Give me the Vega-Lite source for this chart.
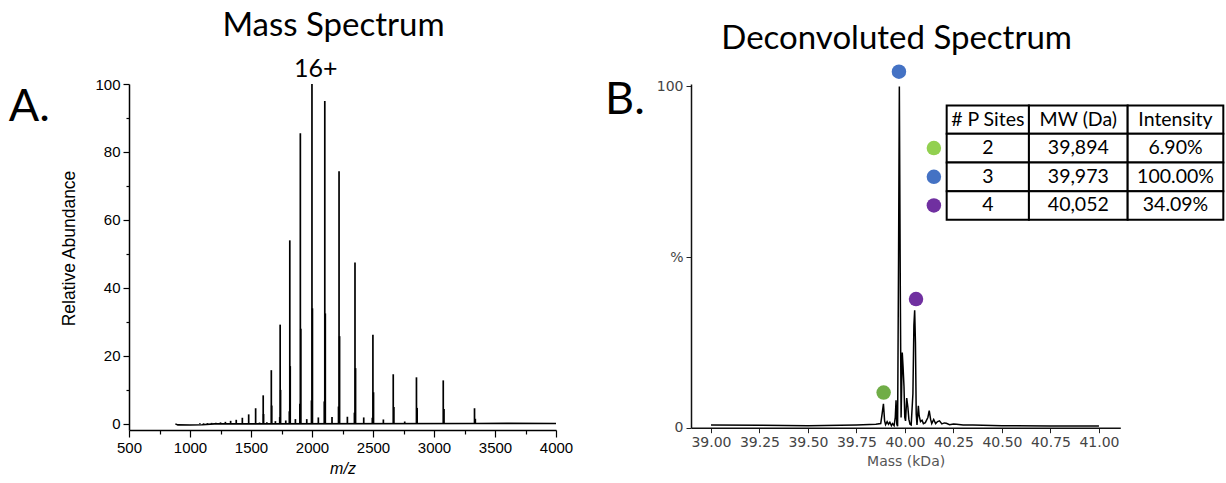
{
  "$schema": "https://vega.github.io/schema/vega-lite/v6.json",
  "background": "white",
  "padding": {"left": 8, "top": 9, "right": 0, "bottom": 0},
  "bounds": "flush",
  "spacing": 135,
  "config": {"view": {"stroke": null}, "axis": {"grid": false}},
  "datasets": {
    "peaks": [
      {"mz": 1081, "ab": 0.2}, {"mz": 1111, "ab": 0.2}, {"mz": 1143, "ab": 0.25}, {"mz": 1177, "ab": 0.3},
      {"mz": 1212, "ab": 0.35}, {"mz": 1250, "ab": 0.45}, {"mz": 1290, "ab": 0.6}, {"mz": 1333, "ab": 0.9},
      {"mz": 1379, "ab": 1.2}, {"mz": 1429, "ab": 1.8}, {"mz": 1481, "ab": 2.8}, {"mz": 1538, "ab": 4.6},
      {"mz": 1600, "ab": 8.4}, {"mz": 1666.5, "ab": 15.8}, {"mz": 1739, "ab": 29.2}, {"mz": 1818, "ab": 54},
      {"mz": 1904.5, "ab": 85.5}, {"mz": 1999.7, "ab": 100}, {"mz": 2104.9, "ab": 95}, {"mz": 2221.7, "ab": 74.3},
      {"mz": 2352.4, "ab": 47.5}, {"mz": 2499.3, "ab": 26.2}, {"mz": 2665.9, "ab": 14.6}, {"mz": 2856.2, "ab": 13.7},
      {"mz": 3075.8, "ab": 12.8}, {"mz": 3332.1, "ab": 4.6},
      {"mz": 1603, "ab": 2.9}, {"mz": 1669.8, "ab": 5.4}, {"mz": 1742.4, "ab": 10}, {"mz": 1821.6, "ab": 17},
      {"mz": 1908.2, "ab": 28}, {"mz": 2003.6, "ab": 34}, {"mz": 2109.1, "ab": 32.5}, {"mz": 2226.1, "ab": 25.8},
      {"mz": 2357.1, "ab": 16.4}, {"mz": 2504.3, "ab": 9.3}, {"mz": 2671.1, "ab": 5}, {"mz": 2861.9, "ab": 4.7},
      {"mz": 3082, "ab": 4.4}, {"mz": 3338.7, "ab": 1.5},
      {"mz": 1735.5, "ab": 2}, {"mz": 1814.3, "ab": 3.7}, {"mz": 1900.7, "ab": 5.9}, {"mz": 1995.7, "ab": 6.9},
      {"mz": 2100.7, "ab": 6.6}, {"mz": 2217.3, "ab": 5.1}, {"mz": 2347.7, "ab": 3.3}, {"mz": 2494.4, "ab": 1.8},
      {"mz": 1570, "ab": 0.4}, {"mz": 1630, "ab": 0.5}, {"mz": 1700, "ab": 0.8}, {"mz": 1785, "ab": 1.0},
      {"mz": 1864, "ab": 1.4}, {"mz": 1957, "ab": 1.4}, {"mz": 2052, "ab": 1.9}, {"mz": 2164, "ab": 2.0},
      {"mz": 2290, "ab": 2.1}, {"mz": 2424, "ab": 1.9}, {"mz": 2585, "ab": 1.3}, {"mz": 2760, "ab": 0.7}
    ],
    "noise": [
      {"mz": 880, "ab": 0}, {"mz": 900, "ab": -0.3}, {"mz": 1000, "ab": -0.35}, {"mz": 1100, "ab": -0.25},
      {"mz": 1200, "ab": 0}, {"mz": 3350, "ab": 0.1}, {"mz": 3600, "ab": 0.15}, {"mz": 4000, "ab": 0.1}
    ],
    "labelA": [{"mz": -486, "ab": 89.2, "label": "A."}],
    "charge": [{"mz": 2030, "ab": 102.15, "label": "16+"}],
    "profile": [
      {"mass": 39.0, "pct": 0.8}, {"mass": 39.25, "pct": 0.7}, {"mass": 39.5, "pct": 0.6}, {"mass": 39.75, "pct": 0.8},
      {"mass": 39.85, "pct": 1.0}, {"mass": 39.875, "pct": 1.2}, {"mass": 39.882, "pct": 4}, {"mass": 39.889, "pct": 7.0},
      {"mass": 39.895, "pct": 2}, {"mass": 39.9, "pct": 0.9}, {"mass": 39.908, "pct": 1.8}, {"mass": 39.915, "pct": 1.0},
      {"mass": 39.922, "pct": 1.6}, {"mass": 39.93, "pct": 0.6}, {"mass": 39.936, "pct": 1.2}, {"mass": 39.944, "pct": 0.6},
      {"mass": 39.95, "pct": 3}, {"mass": 39.954, "pct": 8.0}, {"mass": 39.958, "pct": 1}, {"mass": 39.962, "pct": 0.4},
      {"mass": 39.967, "pct": 50}, {"mass": 39.971, "pct": 100}, {"mass": 39.976, "pct": 40}, {"mass": 39.98, "pct": 3},
      {"mass": 39.983, "pct": 12}, {"mass": 39.986, "pct": 22}, {"mass": 39.99, "pct": 18}, {"mass": 39.995, "pct": 12},
      {"mass": 39.999, "pct": 3}, {"mass": 40.003, "pct": 2}, {"mass": 40.009, "pct": 8.7}, {"mass": 40.015, "pct": 6},
      {"mass": 40.02, "pct": 2.5}, {"mass": 40.026, "pct": 1.0}, {"mass": 40.032, "pct": 0.8}, {"mass": 40.041, "pct": 10},
      {"mass": 40.046, "pct": 30}, {"mass": 40.05, "pct": 34.4}, {"mass": 40.054, "pct": 25}, {"mass": 40.058, "pct": 4},
      {"mass": 40.062, "pct": 0.8}, {"mass": 40.066, "pct": 4}, {"mass": 40.069, "pct": 6.4}, {"mass": 40.073, "pct": 3.5},
      {"mass": 40.08, "pct": 1.8}, {"mass": 40.088, "pct": 2.2}, {"mass": 40.095, "pct": 1.2}, {"mass": 40.105, "pct": 1.5},
      {"mass": 40.118, "pct": 3}, {"mass": 40.125, "pct": 5.0}, {"mass": 40.132, "pct": 2.5}, {"mass": 40.138, "pct": 1.2},
      {"mass": 40.148, "pct": 2.4}, {"mass": 40.158, "pct": 1.2}, {"mass": 40.168, "pct": 1.8}, {"mass": 40.178, "pct": 2.0},
      {"mass": 40.19, "pct": 1.1}, {"mass": 40.203, "pct": 1.4}, {"mass": 40.213, "pct": 1.3}, {"mass": 40.23, "pct": 0.9},
      {"mass": 40.25, "pct": 1.1}, {"mass": 40.266, "pct": 1.0}, {"mass": 40.3, "pct": 0.8}, {"mass": 40.35, "pct": 0.8},
      {"mass": 40.4, "pct": 0.7}, {"mass": 40.5, "pct": 0.6}, {"mass": 40.75, "pct": 0.5}, {"mass": 41.0, "pct": 0.5}
    ],
    "dots": [
      {"mass": 39.969, "pct": 104.3, "kind": "3 sites"},
      {"mass": 40.057, "pct": 37.7, "kind": "4 sites"},
      {"mass": 39.89, "pct": 10.3, "kind": "2 sites"},
      {"mass": 40.149, "pct": 81.94, "kind": "2 sites key"},
      {"mass": 40.149, "pct": 73.52, "kind": "3 sites key"},
      {"mass": 40.149, "pct": 65.12, "kind": "4 sites key"}
    ],
    "cells": [
      {"x1": 40.215, "x2": 40.639, "y1": 94.43, "y2": 86.14, "xc": 40.427, "yc": 90.29, "label": "# P Sites"},
      {"x1": 40.639, "x2": 41.148, "y1": 94.43, "y2": 86.14, "xc": 40.8935, "yc": 90.29, "label": "MW (Da)"},
      {"x1": 41.148, "x2": 41.641, "y1": 94.43, "y2": 86.14, "xc": 41.3945, "yc": 90.29, "label": "Intensity"},
      {"x1": 40.215, "x2": 40.639, "y1": 86.14, "y2": 77.73, "xc": 40.427, "yc": 81.94, "label": "2"},
      {"x1": 40.639, "x2": 41.148, "y1": 86.14, "y2": 77.73, "xc": 40.8935, "yc": 81.94, "label": "39,894"},
      {"x1": 41.148, "x2": 41.641, "y1": 86.14, "y2": 77.73, "xc": 41.3945, "yc": 81.94, "label": "6.90%"},
      {"x1": 40.215, "x2": 40.639, "y1": 77.73, "y2": 69.3, "xc": 40.427, "yc": 73.52, "label": "3"},
      {"x1": 40.639, "x2": 41.148, "y1": 77.73, "y2": 69.3, "xc": 40.8935, "yc": 73.52, "label": "39,973"},
      {"x1": 41.148, "x2": 41.641, "y1": 77.73, "y2": 69.3, "xc": 41.3945, "yc": 73.52, "label": "100.00%"},
      {"x1": 40.215, "x2": 40.639, "y1": 69.3, "y2": 60.94, "xc": 40.427, "yc": 65.12, "label": "4"},
      {"x1": 40.639, "x2": 41.148, "y1": 69.3, "y2": 60.94, "xc": 40.8935, "yc": 65.12, "label": "40,052"},
      {"x1": 41.148, "x2": 41.641, "y1": 69.3, "y2": 60.94, "xc": 41.3945, "yc": 65.12, "label": "34.09%"}
    ],
    "labelB": [{"mass": 38.454, "pct": 92.0, "label": "B."}]
  },
  "hconcat": [
    {
      "width": 427,
      "height": 346,
      "title": {"text": "Mass Spectrum", "font": "Lato", "fontSize": 33, "fontWeight": "normal", "color": "black", "offset": 14, "dx": -9},
      "resolve": {"axis": {"x": "independent", "y": "independent"}},
      "layer": [
        {
          "data": {"name": "peaks"},
          "mark": {"type": "rule", "color": "black", "strokeWidth": 1.7},
          "encoding": {
            "x": {"field": "mz", "type": "quantitative", "scale": {"domain": [500, 4000], "nice": false, "zero": false},
              "axis": {"orient": "bottom", "values": [500, 1000, 1500, 2000, 2500, 3000, 3500, 4000], "format": "d", "labelFlush": false, "tickSize": 7, "tickColor": "black", "tickWidth": 1.2,
                "domainColor": "black", "domainWidth": 1.5, "labelFont": "Liberation Sans", "labelFontSize": 15, "labelColor": "black", "labelPadding": 3,
                "title": "m/z", "titleFont": "Liberation Sans", "titleFontSize": 16, "titleFontStyle": "italic", "titleFontWeight": "normal", "titleColor": "black", "titlePadding": 5}},
            "y": {"field": "ab", "type": "quantitative", "scale": {"domain": [-1.8, 100], "nice": false, "zero": false},
              "axis": {"orient": "left", "values": [0, 20, 40, 60, 80, 100], "labelFlush": false, "tickSize": 6, "tickColor": "black", "tickWidth": 1.2,
                "domainColor": "black", "domainWidth": 1.5, "labelFont": "Liberation Sans", "labelFontSize": 15, "labelColor": "black", "labelPadding": 3,
                "title": "Relative Abundance", "titleFont": "Liberation Sans", "titleFontSize": 17.5, "titleFontWeight": "normal", "titleColor": "black", "titlePadding": 16, "titleY": 164}},
            "y2": {"datum": 0}
          }
        },
        {
          "data": {"name": "noise"},
          "mark": {"type": "line", "color": "black", "strokeWidth": 1.6},
          "encoding": {
            "x": {"field": "mz", "type": "quantitative",
              "axis": {"orient": "bottom", "values": [750, 1250, 1750, 2250, 2750, 3250, 3750], "labels": false, "domain": false, "tickSize": 4, "tickColor": "black", "tickWidth": 1.2, "title": null}},
            "y": {"field": "ab", "type": "quantitative",
              "axis": {"orient": "left", "values": [10, 30, 50, 70, 90], "labels": false, "domain": false, "tickSize": 3, "tickColor": "black", "tickWidth": 1.2, "title": null}}
          }
        },
        {
          "mark": {"type": "rule", "color": "black", "strokeWidth": 1.5},
          "encoding": {"y": {"datum": 0, "type": "quantitative", "axis": null}}
        },
        {
          "data": {"name": "labelA"},
          "mark": {"type": "text", "font": "Lato", "fontSize": 45, "align": "left", "baseline": "alphabetic", "color": "black"},
          "encoding": {
            "x": {"field": "mz", "type": "quantitative", "axis": null},
            "y": {"field": "ab", "type": "quantitative", "axis": null},
            "text": {"field": "label"}
          }
        },
        {
          "data": {"name": "charge"},
          "mark": {"type": "text", "font": "Lato", "fontSize": 25, "align": "center", "baseline": "alphabetic", "color": "black"},
          "encoding": {
            "x": {"field": "mz", "type": "quantitative", "axis": null},
            "y": {"field": "ab", "type": "quantitative", "axis": null},
            "text": {"field": "label"}
          }
        }
      ]
    },
    {
      "width": 429.3,
      "height": 343.7,
      "title": {"text": "Deconvoluted Spectrum", "font": "Lato", "fontSize": 33, "fontWeight": "normal", "color": "black", "offset": 8, "dx": -9},
      "layer": [
        {
          "data": {"name": "profile"},
          "mark": {"type": "line", "color": "black", "strokeWidth": 1.5},
          "encoding": {
            "x": {"field": "mass", "type": "quantitative", "scale": {"domain": [38.897, 41.11], "nice": false, "zero": false},
              "axis": {"values": [39, 39.25, 39.5, 39.75, 40, 40.25, 40.5, 40.75, 41], "format": ".2f", "labelFlush": false, "tickSize": 5, "tickColor": "#222", "domainColor": "#111", "domainWidth": 1.5,
                "labelFont": "DejaVu Sans", "labelFontSize": 14, "labelColor": "#444", "labelPadding": 3,
                "title": "Mass (kDa)", "titleFont": "DejaVu Sans", "titleFontSize": 14, "titleFontWeight": "normal", "titleColor": "#555", "titlePadding": 5}},
            "y": {"field": "pct", "type": "quantitative", "scale": {"domain": [0, 100.7], "nice": false, "zero": false},
              "axis": {"values": [0, 50, 100], "labelExpr": "datum.value == 50 ? '%' : datum.value", "labelFlush": false, "tickSize": 5, "tickColor": "#222", "domainColor": "#111", "domainWidth": 1.5,
                "labelFont": "DejaVu Sans", "labelFontSize": 14, "labelColor": "#444", "labelPadding": 3, "title": null}}
          }
        },
        {
          "data": {"name": "cells"},
          "mark": {"type": "rect", "fill": "white", "stroke": "black", "strokeWidth": 2},
          "encoding": {
            "x": {"field": "x1", "type": "quantitative"},
            "x2": {"field": "x2"},
            "y": {"field": "y1", "type": "quantitative"},
            "y2": {"field": "y2"}
          }
        },
        {
          "data": {"name": "cells"},
          "mark": {"type": "text", "font": "Lato", "fontSize": 19.5, "align": "center", "baseline": "middle", "color": "black"},
          "encoding": {
            "x": {"field": "xc", "type": "quantitative"},
            "y": {"field": "yc", "type": "quantitative"},
            "text": {"field": "label"}
          }
        },
        {
          "data": {"name": "dots"},
          "mark": {"type": "point", "shape": "circle", "filled": true, "opacity": 1, "size": 210, "strokeWidth": 0},
          "encoding": {
            "x": {"field": "mass", "type": "quantitative"},
            "y": {"field": "pct", "type": "quantitative"},
            "color": {"field": "kind", "type": "nominal", "legend": null,
              "scale": {"domain": ["2 sites", "3 sites", "4 sites", "2 sites key", "3 sites key", "4 sites key"],
                "range": ["#70AD47", "#4472C4", "#7030A0", "#92D050", "#4472C4", "#7030A0"]}}
          }
        },
        {
          "data": {"name": "labelB"},
          "mark": {"type": "text", "font": "Lato", "fontSize": 45, "align": "left", "baseline": "alphabetic", "color": "black"},
          "encoding": {
            "x": {"field": "mass", "type": "quantitative"},
            "y": {"field": "pct", "type": "quantitative"},
            "text": {"field": "label"}
          }
        }
      ]
    }
  ]
}
